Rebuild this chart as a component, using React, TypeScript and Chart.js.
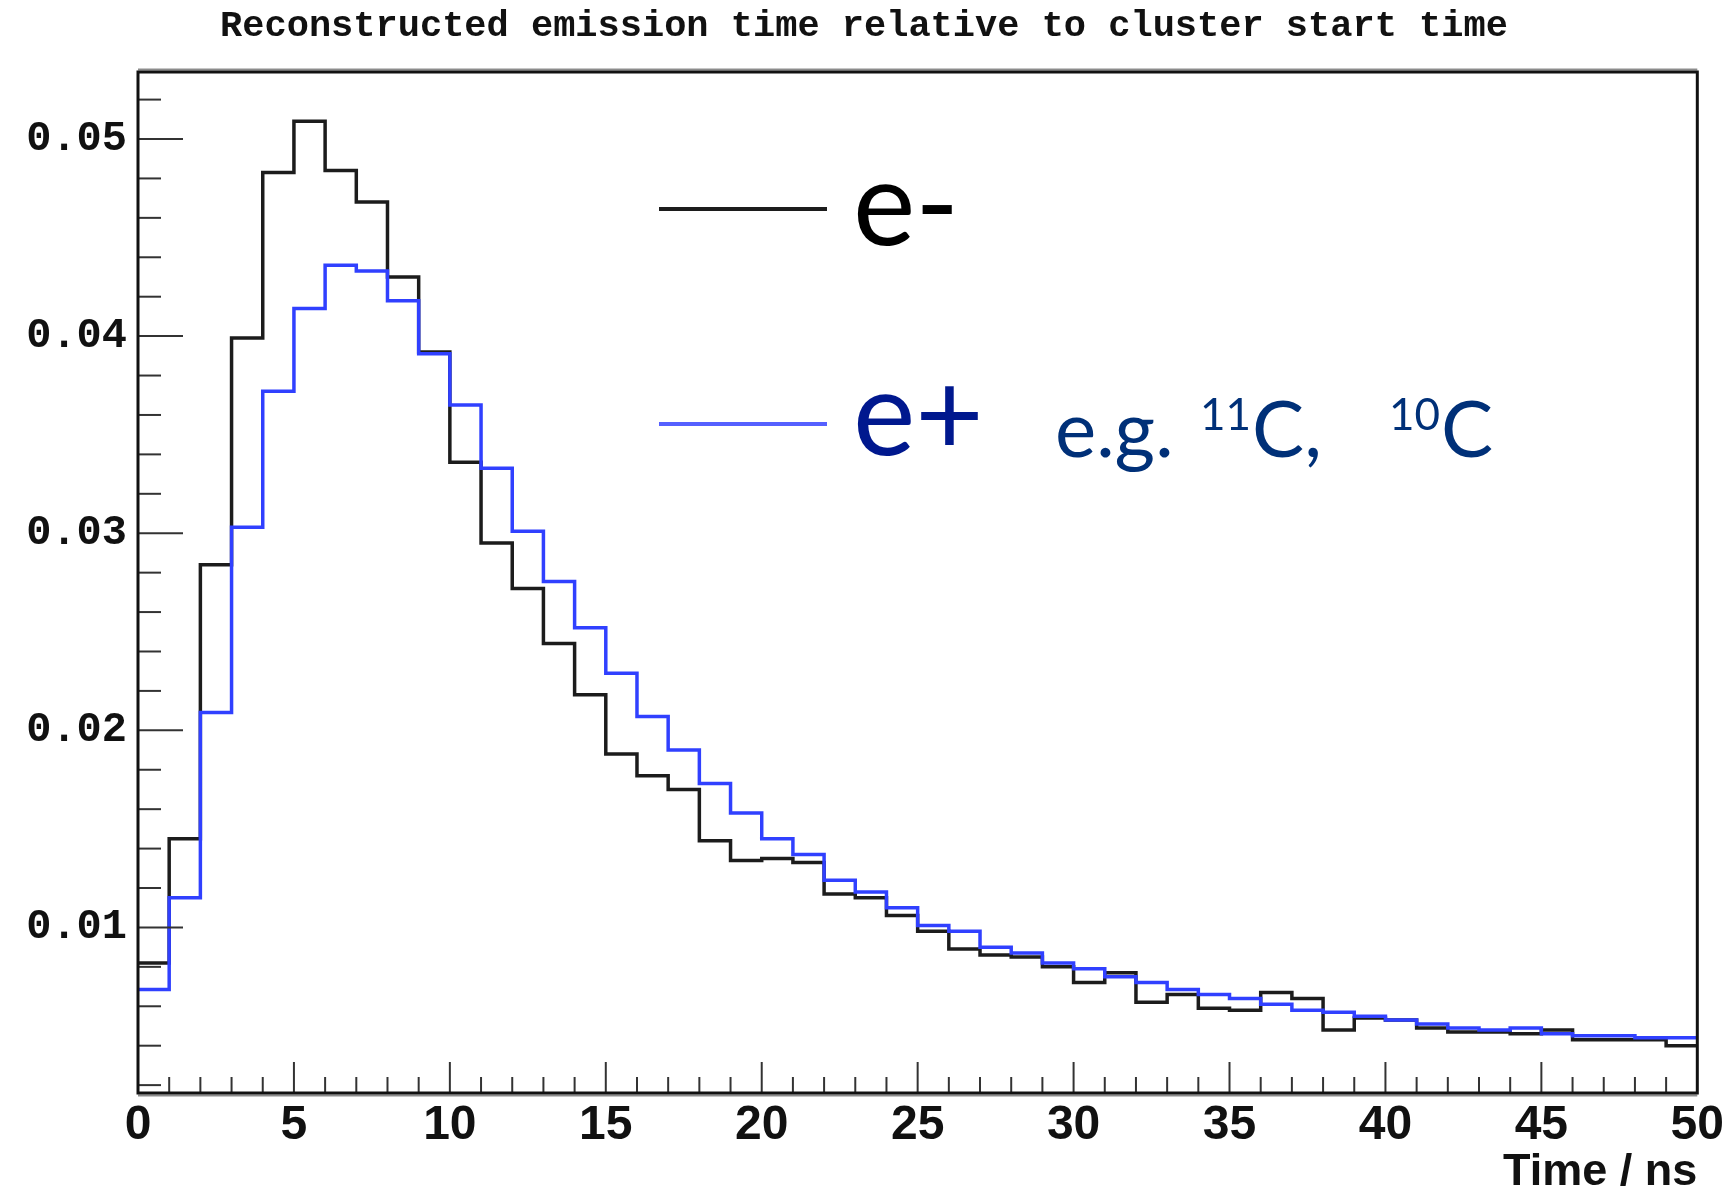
import React, { useEffect, useRef } from "react";
import { Chart, registerables } from "chart.js";

Chart.register(...registerables);

// ---------------- data ----------------
const titleText = "Reconstructed emission time relative to cluster start time";
const xAxisTitle = "Time / ns";

// lower edge of each 1 ns bin
const binStart = [
  0, 1, 2, 3, 4, 5, 6, 7, 8, 9,
  10, 11, 12, 13, 14, 15, 16, 17, 18, 19,
  20, 21, 22, 23, 24, 25, 26, 27, 28, 29,
  30, 31, 32, 33, 34, 35, 36, 37, 38, 39,
  40, 41, 42, 43, 44, 45, 46, 47, 48, 49,
];
const lastEdge = 50;

// e- (black histogram)
const eMinus = [
  0.0082, 0.0145, 0.0284, 0.0399, 0.0483, 0.0509, 0.0484, 0.0468, 0.0430, 0.0392,
  0.0336, 0.0295, 0.0272, 0.0244, 0.0218, 0.0188, 0.0177, 0.0170, 0.0144, 0.0134,
  0.0135, 0.0133, 0.0117, 0.0115, 0.0106, 0.0098, 0.0089, 0.0086, 0.0085, 0.0080,
  0.0072, 0.0077, 0.0062, 0.0066, 0.0059, 0.0058, 0.0067, 0.0064, 0.0048, 0.0054,
  0.0053, 0.0049, 0.0047, 0.0047, 0.0046, 0.0048, 0.0043, 0.0043, 0.0043, 0.0040,
];

// e+ (blue histogram)
const ePlus = [
  0.00685, 0.0115, 0.0209, 0.0303, 0.0372, 0.0414, 0.0436, 0.0433, 0.0418, 0.0391,
  0.0365, 0.0333, 0.0301, 0.02755, 0.0252, 0.0229, 0.0207, 0.0190, 0.0173, 0.0158,
  0.0145, 0.0137, 0.0124, 0.0118, 0.0110, 0.0101, 0.0098, 0.0090, 0.0087, 0.0082,
  0.0079, 0.0075, 0.0072, 0.00685, 0.0066, 0.0064, 0.0061, 0.0058, 0.0057, 0.0055,
  0.0053, 0.0051, 0.0049, 0.0048, 0.0049, 0.0046, 0.0045, 0.0045, 0.0044, 0.0044,
];

const xTicks = [0, 5, 10, 15, 20, 25, 30, 35, 40, 45, 50];
const yTicks = [0.01, 0.02, 0.03, 0.04, 0.05];
const xMin = 0;
const xMax = 50;
const yMin = 0.0016;
const yMax = 0.0534;

// ---------------- styles ----------------
const W = 1728;
const H = 1193;
const BLACK = "#1c1c1c";
const BLUE = "#3040ff";
const BLUE_LEGEND = "#5560ff";
const EPLUS_TEXT = "#00188e";
const EG_TEXT = "#003078";

function toSteps(values: number[]) {
  const pts = binStart.map((x, i) => ({ x, y: values[i] }));
  pts.push({ x: lastEdge, y: values[values.length - 1] });
  return pts;
}

const frameAndTicks = {
  id: "frameAndTicks",
  afterDatasetsDraw(chart: any) {
    const { ctx, chartArea: a, scales } = chart;
    const x = scales.x;
    const y = scales.y;
    const line = (x1: number, y1: number, x2: number, y2: number) => {
      ctx.beginPath();
      ctx.moveTo(x1, y1);
      ctx.lineTo(x2, y2);
      ctx.stroke();
    };
    ctx.save();
    ctx.strokeStyle = "#333";
    ctx.lineWidth = 2;
    for (let v = 1; v < 50; v++) {
      const px = x.getPixelForValue(v);
      const len = v % 5 === 0 ? 31 : 16;
      line(px, a.bottom, px, a.bottom - len);
    }
    for (let k = 1; k <= 26; k++) {
      const v = k * 0.002;
      if (v < y.min || v > y.max) continue;
      const py = y.getPixelForValue(v);
      const len = k % 5 === 0 ? 45 : 23;
      line(a.left, py, a.left + len, py);
    }
    ctx.strokeStyle = "#111";
    ctx.lineWidth = 3;
    ctx.strokeRect(a.left, a.top, a.right - a.left, a.bottom - a.top);
    ctx.lineWidth = 2;
    ctx.strokeStyle = "rgba(0,0,0,0.45)";
    line(a.left, a.bottom + 2.5, a.right, a.bottom + 2.5);
    line(a.left, a.top - 2.5, a.right, a.top - 2.5);
    ctx.restore();
  },
};

const bigLegend = {
  id: "bigLegend",
  afterDraw(chart: any) {
    const ctx = chart.ctx;
    ctx.save();
    ctx.lineWidth = 4;
    ctx.strokeStyle = BLACK;
    ctx.beginPath();
    ctx.moveTo(659, 209);
    ctx.lineTo(827, 209);
    ctx.stroke();
    ctx.strokeStyle = BLUE_LEGEND;
    ctx.beginPath();
    ctx.moveTo(659, 424);
    ctx.lineTo(827, 424);
    ctx.stroke();

    ctx.textAlign = "left";
    ctx.textBaseline = "alphabetic";
    ctx.font = "118px Lato";
    ctx.fillStyle = "#000";
    ctx.fillText("e-", 853, 245);
    ctx.fillStyle = EPLUS_TEXT;
    ctx.fillText("e+", 853, 455);

    ctx.fillStyle = EG_TEXT;
    const base = 457;
    ctx.font = "78px Lato";
    ctx.fillText("e.g.", 1055, base);
    let cx = 1200;
    ctx.font = "44px Lato";
    ctx.fillText("11", cx, base - 27);
    cx += ctx.measureText("11").width + 1;
    ctx.font = "78px Lato";
    ctx.fillText("C,", cx, base);
    cx = 1389;
    ctx.font = "44px Lato";
    ctx.fillText("10", cx, base - 27);
    cx += ctx.measureText("10").width + 1;
    ctx.font = "78px Lato";
    ctx.fillText("C", cx, base);
    ctx.restore();
  },
};

export default function App() {
  const ref = useRef<HTMLCanvasElement | null>(null);

  useEffect(() => {
    if (!ref.current) return;
    const chart = new Chart(ref.current, {
      type: "line",
      data: {
        datasets: [
          {
            label: "e+",
            data: toSteps(ePlus),
            stepped: "before",
            borderColor: BLUE,
            borderWidth: 3.5,
            pointRadius: 0,
            fill: false,
            order: 0,
          },
          {
            label: "e-",
            data: toSteps(eMinus),
            stepped: "before",
            borderColor: BLACK,
            borderWidth: 3.5,
            pointRadius: 0,
            fill: false,
            order: 1,
          },
        ],
      },
      options: {
        animation: false,
        responsive: false,
        devicePixelRatio: 1,
        layout: { padding: { top: 0, left: 0, right: 0, bottom: 0 } },
        plugins: {
          legend: { display: false },
          tooltip: { enabled: false },
          title: {
            display: true,
            text: titleText,
            color: "#111",
            font: { family: '"Liberation Mono", "DejaVu Sans Mono", monospace', size: 37, weight: "bold" },
            padding: { top: 4, bottom: 23.6 },
          },
        },
        scales: {
          x: {
            type: "linear",
            min: xMin,
            max: xMax,
            afterBuildTicks: (s: any) => {
              s.ticks = xTicks.map((v) => ({ value: v }));
            },
            afterFit: (s: any) => {
              s.height = 100;
            },
            grid: { display: false, drawTicks: false },
            border: { display: false },
            ticks: {
              color: "#111",
              padding: 4,
              maxRotation: 0,
              autoSkip: false,
              font: { family: '"Liberation Sans", Arial, sans-serif', size: 48, weight: "bold" },
              callback: (v: any) => String(v),
            },
            title: {
              display: true,
              text: xAxisTitle,
              align: "end",
              color: "#111",
              font: { family: '"Liberation Sans", Arial, sans-serif', size: 45, weight: "bold" },
              padding: { top: 0, bottom: -7 },
            },
          },
          y: {
            type: "linear",
            min: yMin,
            max: yMax,
            afterBuildTicks: (s: any) => {
              s.ticks = yTicks.map((v) => ({ value: v }));
            },
            afterFit: (s: any) => {
              s.width = 138;
            },
            grid: { display: false, drawTicks: false },
            border: { display: false },
            ticks: {
              color: "#111",
              padding: 11,
              autoSkip: false,
              font: { family: '"Liberation Mono", "DejaVu Sans Mono", monospace', size: 42, weight: "bold" },
              callback: (v: any) => Number(v).toFixed(2),
            },
          },
          yRightSpace: {
            type: "linear",
            position: "right",
            display: true,
            min: 0,
            max: 1,
            grid: { display: false, drawTicks: false },
            border: { display: false },
            ticks: { display: false },
            afterFit: (s: any) => {
              s.width = 30;
            },
          },
        },
      },
      plugins: [frameAndTicks, bigLegend],
    });
    return () => chart.destroy();
  }, []);

  return (
    <div style={{ position: "absolute", left: 0, top: 0, width: W, height: H, background: "#fff" }}>
      <canvas ref={ref} width={W} height={H} style={{ width: W, height: H, display: "block" }} />
    </div>
  );
}
